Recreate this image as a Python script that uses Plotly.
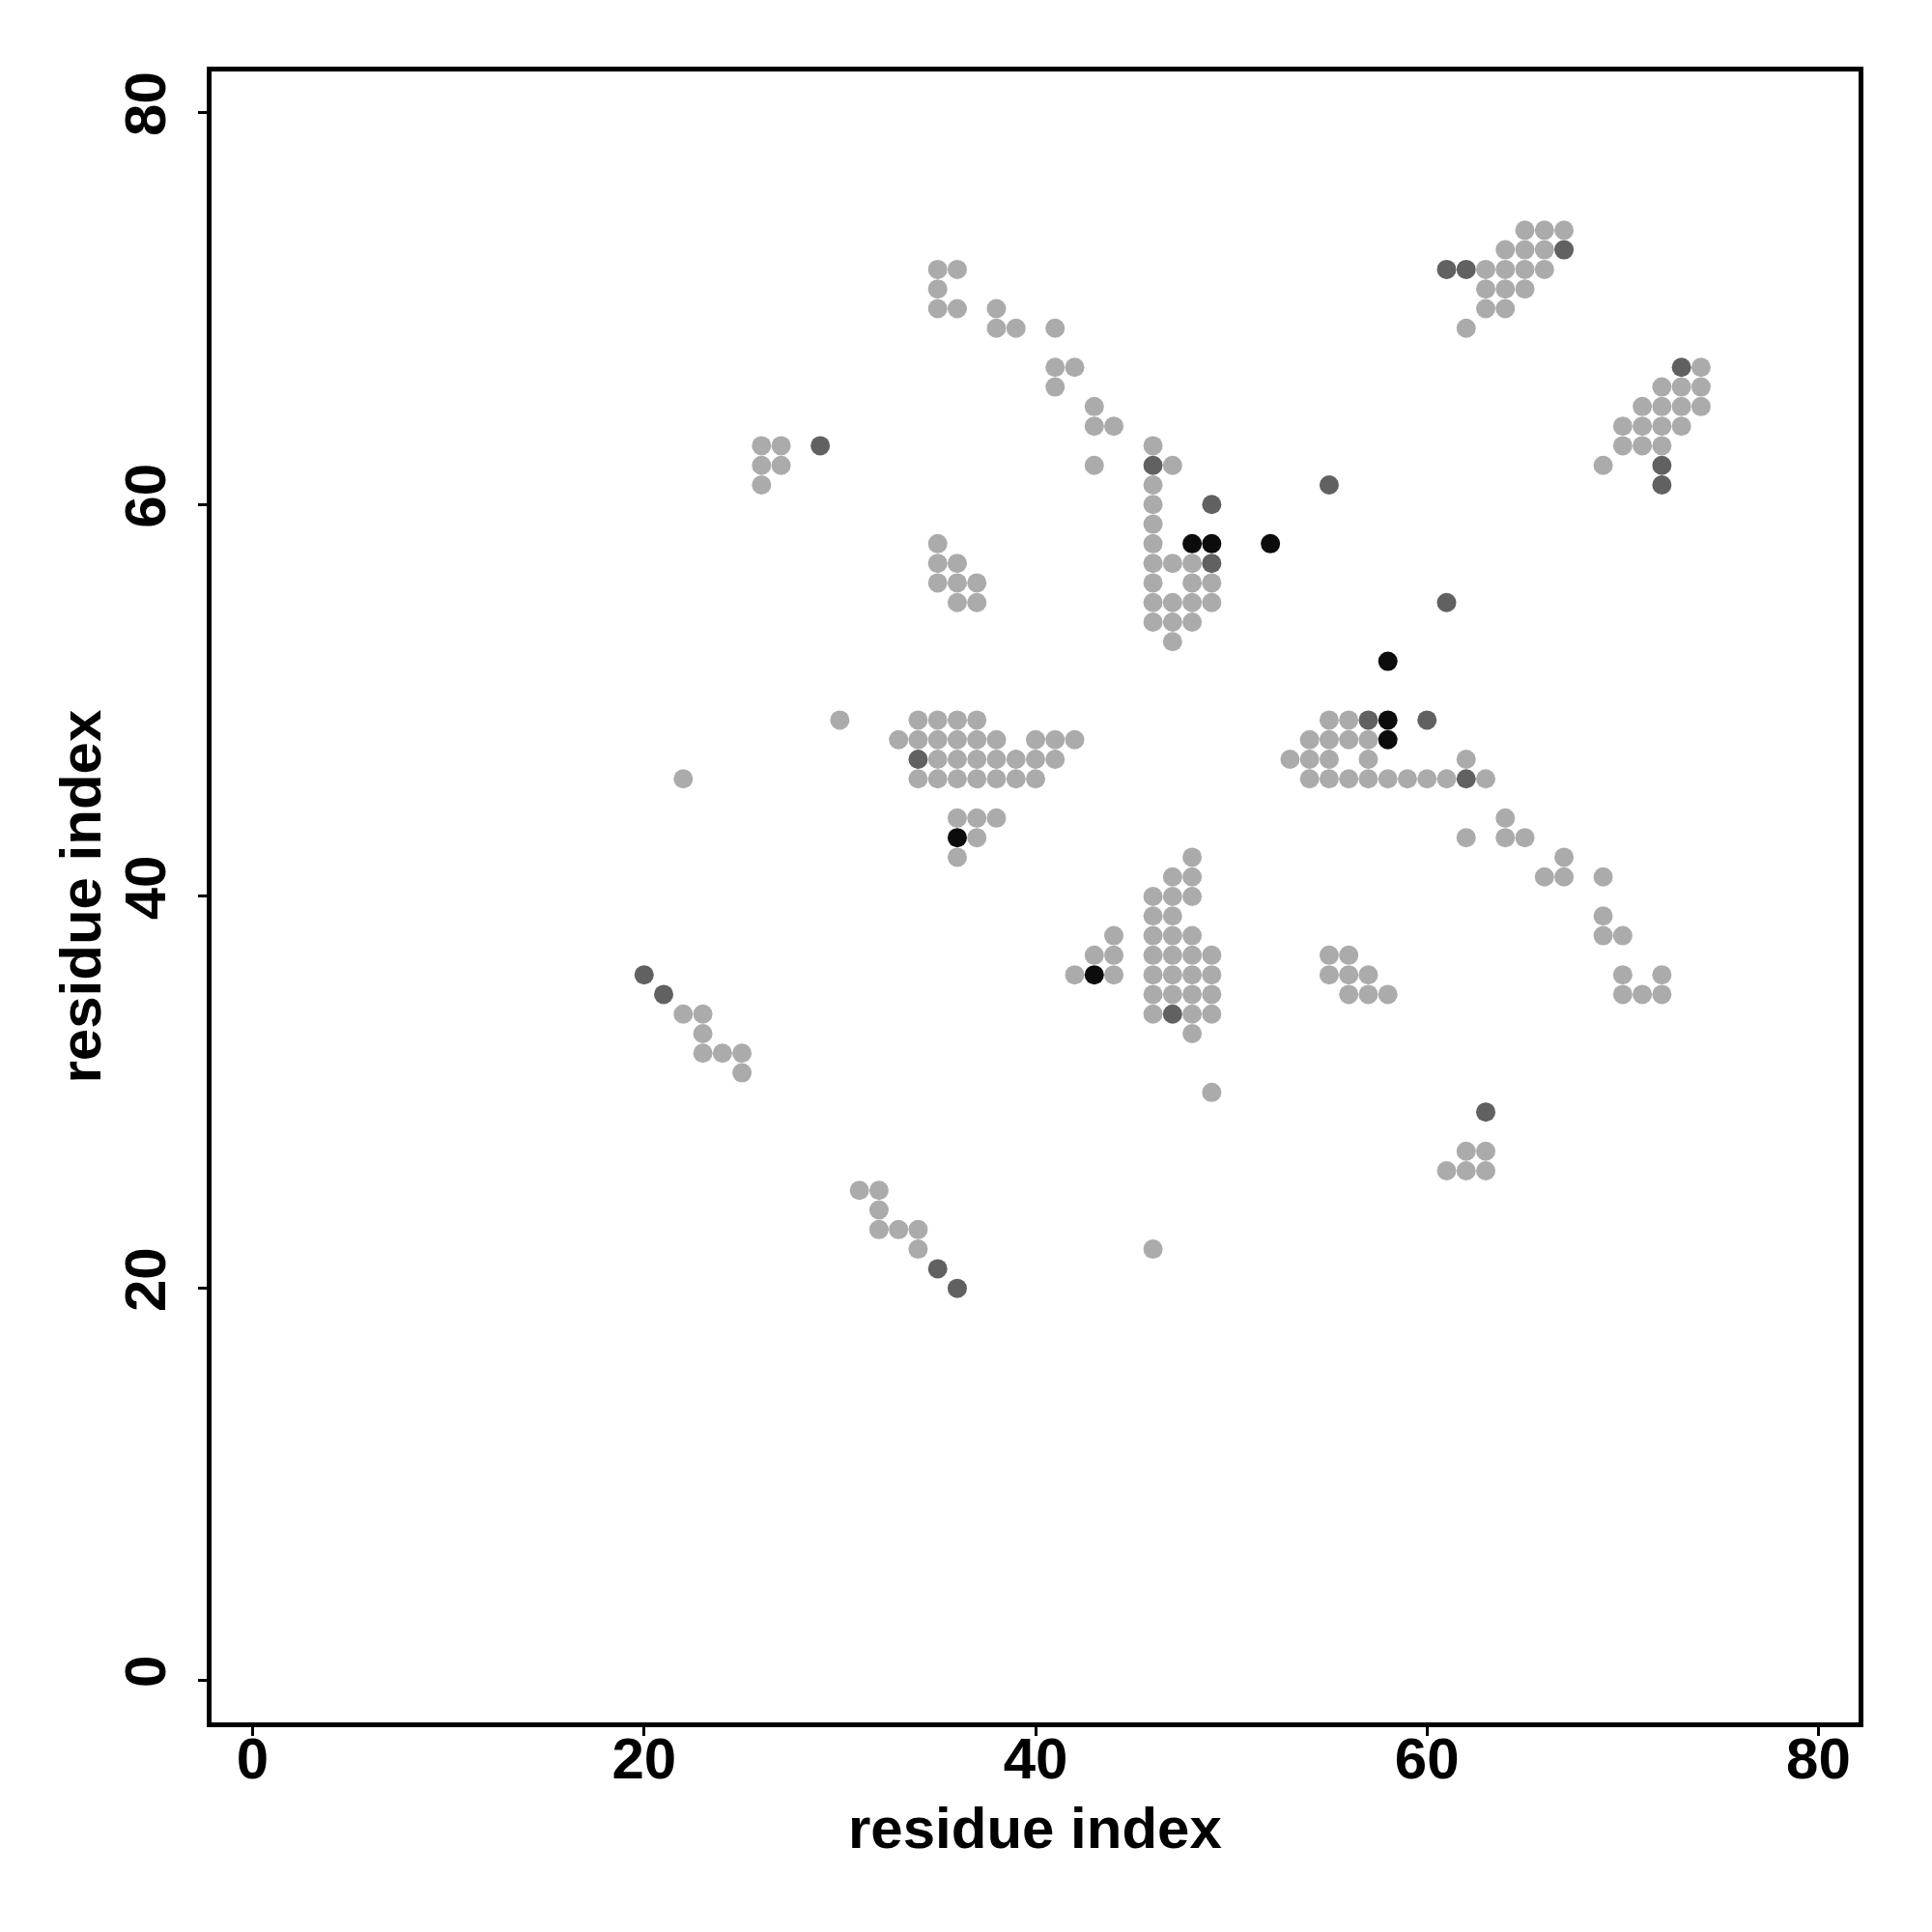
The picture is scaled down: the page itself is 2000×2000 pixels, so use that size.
import plotly.graph_objects as go

# Contact pairs (residue x, residue y), grouped by shade
light_contacts = [
    (65, 74), (66, 74), (67, 74),
    (64, 73), (65, 73), (66, 73),
    (35, 72), (36, 72), (63, 72), (64, 72), (65, 72), (66, 72),
    (35, 71), (63, 71), (64, 71), (65, 71),
    (35, 70), (36, 70), (38, 70), (63, 70), (64, 70),
    (38, 69), (39, 69), (41, 69), (62, 69),
    (41, 67), (42, 67), (74, 67),
    (41, 66), (72, 66), (73, 66), (74, 66),
    (43, 65), (71, 65), (72, 65), (73, 65), (74, 65),
    (43, 64), (44, 64), (70, 64), (71, 64), (72, 64), (73, 64),
    (26, 63), (27, 63), (46, 63), (70, 63), (71, 63), (72, 63),
    (26, 62), (27, 62), (43, 62), (47, 62), (69, 62),
    (26, 61), (46, 61),
    (46, 60),
    (46, 59),
    (35, 58), (46, 58),
    (35, 57), (36, 57), (46, 57), (47, 57), (48, 57),
    (35, 56), (36, 56), (37, 56), (46, 56), (48, 56), (49, 56),
    (36, 55), (37, 55), (46, 55), (47, 55), (48, 55), (49, 55),
    (46, 54), (47, 54), (48, 54),
    (47, 53),
    (30, 49), (34, 49), (35, 49), (36, 49), (37, 49), (55, 49), (56, 49),
    (33, 48), (34, 48), (35, 48), (36, 48), (37, 48), (38, 48), (40, 48),
    (41, 48), (42, 48), (54, 48), (55, 48), (56, 48), (57, 48),
    (35, 47), (36, 47), (37, 47), (38, 47), (39, 47), (40, 47), (41, 47),
    (53, 47), (54, 47), (55, 47), (57, 47), (62, 47),
    (22, 46), (34, 46), (35, 46), (36, 46), (37, 46), (38, 46), (39, 46),
    (40, 46), (54, 46), (55, 46), (56, 46), (57, 46), (58, 46), (59, 46),
    (60, 46), (61, 46), (63, 46),
    (36, 44), (37, 44), (38, 44), (64, 44),
    (37, 43), (62, 43), (64, 43), (65, 43),
    (36, 42), (48, 42), (67, 42),
    (47, 41), (48, 41), (66, 41), (67, 41), (69, 41),
    (46, 40), (47, 40), (48, 40),
    (46, 39), (47, 39), (69, 39),
    (44, 38), (46, 38), (47, 38), (48, 38), (69, 38), (70, 38),
    (43, 37), (44, 37), (46, 37), (47, 37), (48, 37), (49, 37), (55, 37), (56, 37),
    (42, 36), (44, 36), (46, 36), (47, 36), (48, 36), (49, 36), (55, 36),
    (56, 36), (57, 36), (70, 36), (72, 36),
    (46, 35), (47, 35), (48, 35), (49, 35), (56, 35), (57, 35), (58, 35),
    (70, 35), (71, 35), (72, 35),
    (22, 34), (23, 34), (46, 34), (48, 34), (49, 34),
    (23, 33), (48, 33),
    (23, 32), (24, 32), (25, 32),
    (25, 31),
    (49, 30),
    (62, 27), (63, 27),
    (61, 26), (62, 26), (63, 26),
    (31, 25), (32, 25),
    (32, 24),
    (32, 23), (33, 23), (34, 23),
    (34, 22), (46, 22),
]

dark_contacts = [
    (67, 73), (61, 72), (62, 72), (73, 67), (72, 62), (72, 61),
    (29, 63), (46, 62), (55, 61), (49, 60), (49, 57), (61, 55),
    (57, 49), (60, 49), (34, 47), (62, 46), (47, 34), (63, 29),
    (20, 36), (21, 35), (35, 21), (36, 20),
]

black_contacts = [
    (48, 58), (49, 58), (52, 58), (58, 52), (58, 49), (58, 48),
    (36, 43), (43, 36),
]

tick_values = [0, 20, 40, 60, 80]
axis_title = "residue index"

shade_colors = {"light": "#ABABAB", "dark": "#616161", "black": "#0C0C0C"}

fig = go.Figure()
for name, pts in [("light", light_contacts), ("dark", dark_contacts), ("black", black_contacts)]:
    fig.add_trace(go.Scatter(
        x=[p[0] for p in pts], y=[p[1] for p in pts],
        mode="markers", name=name,
        marker=dict(size=20, color=shade_colors[name], line=dict(width=0)),
        showlegend=False,
    ))

font_family = "Liberation Sans, Arial, Helvetica, sans-serif"
big_font = dict(family=font_family, size=60, color="black", weight="bold")

common_axis = dict(
    tickvals=tick_values,
    ticks="outside", ticklen=9, tickwidth=3, tickcolor="black",
    showline=True, mirror=True, linewidth=5, linecolor="black",
    showgrid=False, zeroline=False,
    tickfont=big_font,
)

fig.update_xaxes(range=[-2.1, 82.05], ticklabelstandoff=-28, **common_axis)
fig.update_yaxes(range=[-2.15, 82.1], tickangle=-90, ticklabelstandoff=10, **common_axis)

fig.add_annotation(text=axis_title, xref="paper", yref="paper", x=0.5, y=0,
                   xanchor="center", yanchor="middle", yshift=-109,
                   showarrow=False, font=big_font)
fig.add_annotation(text=axis_title, xref="paper", yref="paper", x=0, y=0.5,
                   xanchor="center", yanchor="middle", xshift=-136, textangle=-90,
                   showarrow=False, font=big_font)

fig.update_layout(
    width=2000, height=2000,
    margin=dict(l=211, r=84, t=66, b=225, autoexpand=False),
    plot_bgcolor="white", paper_bgcolor="white",
    font=dict(family=font_family),
)

fig.write_html("out.html")
